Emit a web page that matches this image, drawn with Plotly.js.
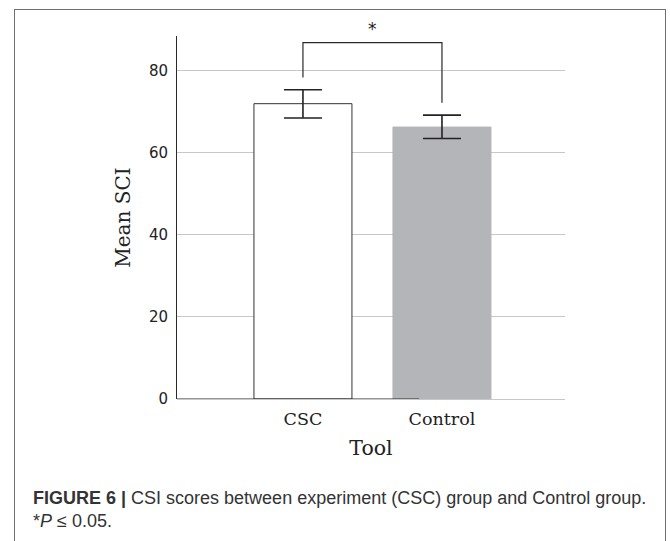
<!DOCTYPE html>
<html>
<head>
<meta charset="utf-8">
<script src="https://cdn.plot.ly/plotly-3.0.1.min.js"></script>
<style>
  html, body { margin: 0; padding: 0; background: #ffffff; }
  #wrap { position: relative; width: 670px; height: 541px; overflow: hidden; }
  #frame { position: absolute; left: 14px; top: 9px; width: 652px; height: 560px; border: 1.5px solid #6f6f6f; box-sizing: border-box; }
  #chart { position: absolute; left: 0; top: 0; width: 670px; height: 541px; }
</style>
</head>
<body>
<div id="wrap">
  <div id="frame"></div>
  <div id="chart"></div>
</div>
<script>
// Data
const categories = ['CSC', 'Control'];
const meanSCI = [72.0, 66.3];
const errPlus = [3.4, 2.9];
const errMinus = [3.5, 2.8];
const yTicks = [0, 20, 40, 60, 80];

const barFill = ['#ffffff', '#b4b5b9'];
const barLine = ['#333333', '#b4b5b9'];

const trace = {
  type: 'bar',
  x: categories,
  y: meanSCI,
  width: 0.705,
  marker: { color: barFill, line: { color: barLine, width: 1 } },
  error_y: {
    type: 'data', symmetric: false,
    array: errPlus, arrayminus: errMinus,
    color: '#222222', thickness: 1.6, width: 19
  },
  hoverinfo: 'skip'
};

// significance bracket built from the error-bar tops
const topErr = meanSCI.map((m, i) => m + errPlus[i]);
const legGap = 3;
const bracketTop = Math.max(...topErr) + 11.5;

const layout = {
  width: 670, height: 541,
  margin: { l: 177, r: 105, t: 36, b: 142 },
  paper_bgcolor: 'rgba(0,0,0,0)',
  plot_bgcolor: 'rgba(0,0,0,0)',
  showlegend: false,
  xaxis: {
    type: 'category',
    range: [-0.906, 1.885],
    showgrid: false, showline: false, zeroline: false,
    ticks: '', ticklabelstandoff: 7,
    tickfont: { family: 'DejaVu Serif', size: 17.5, color: '#222222' },
    title: { text: 'Tool', font: { family: 'DejaVu Serif', size: 20.5, color: '#222222' }, standoff: 13 }
  },
  yaxis: {
    range: [0, 88.5],
    tickvals: yTicks,
    ticktext: yTicks.map(String),
    showline: true, linecolor: '#2a2a2a', linewidth: 1,
    showgrid: true, gridcolor: '#c8c8c8', gridwidth: 1,
    zeroline: true, zerolinecolor: '#c8c8c8', zerolinewidth: 1,
    ticks: '', ticklabelstandoff: 5,
    tickfont: { family: 'DejaVu Sans', size: 15, color: '#222222' },
    title: { text: 'Mean SCI', font: { family: 'DejaVu Serif', size: 20, color: '#222222' }, standoff: 12 }
  },
  shapes: [
    { type: 'line', xref: 'paper', yref: 'y', x0: 0, x1: 0.624, y0: 0, y1: 0,
      line: { color: '#2a2a2a', width: 1 } },
    { type: 'path', xref: 'x', yref: 'y',
      path: 'M 0 ' + (topErr[0] + legGap) + ' L 0 ' + bracketTop + ' L 1 ' + bracketTop + ' L 1 ' + (topErr[1] + legGap),
      line: { color: '#2a2a2a', width: 1.2 } }
  ],
  annotations: [
    { xref: 'x', yref: 'y', x: 0.5, y: bracketTop, yanchor: 'bottom', yshift: 2,
      text: '*', showarrow: false, font: { family: 'DejaVu Sans', size: 17, color: '#222222' } },
    { xref: 'paper', yref: 'paper', x: -0.377, y: -0.241, xanchor: 'left', yanchor: 'top', align: 'left',
      showarrow: false,
      text: '<b>FIGURE 6 |</b> CSI scores between experiment (CSC) group and Control group.<br>*<i>P</i> ≤ 0.05.',
      font: { family: 'Liberation Sans Narrow, Liberation Sans, sans-serif', size: 18, color: '#333333' } }
  ]
};

Plotly.newPlot('chart', [trace], layout, { displayModeBar: false, staticPlot: true });
</script>
</body>
</html>
